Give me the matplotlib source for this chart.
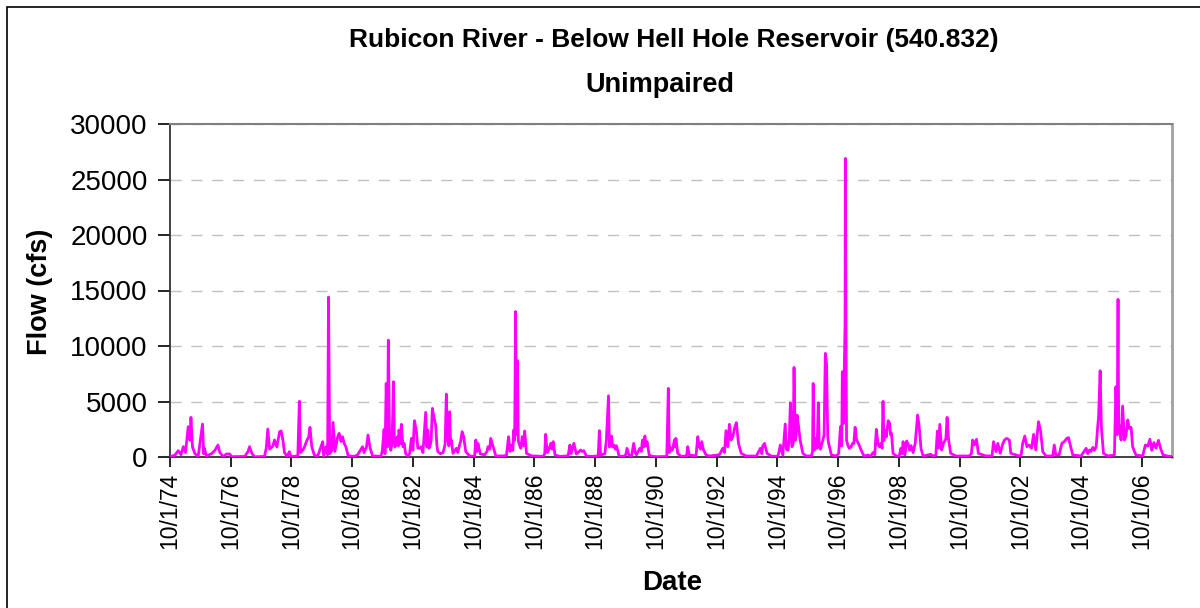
import matplotlib
matplotlib.use("Agg")
import matplotlib.pyplot as plt
from matplotlib.patches import Rectangle
import pandas as pd

# Rubicon River below Hell Hole Reservoir, unimpaired flow
# decimal year -> flow (cfs)
flow_year = [
    1974.75, 1974.91, 1975.02, 1975.11, 1975.19, 1975.26, 1975.35, 1975.41, 1975.44, 1975.49,
    1975.57, 1975.68, 1975.82, 1975.86, 1975.88, 1975.95, 1976.12, 1976.23, 1976.33, 1976.39,
    1976.50, 1976.61, 1976.72, 1976.77, 1977.21, 1977.32, 1977.37, 1977.45, 1977.54, 1977.86,
    1977.92, 1977.97, 1978.03, 1978.14, 1978.19, 1978.27, 1978.36, 1978.41, 1978.47, 1978.52,
    1978.61, 1978.68, 1978.74, 1978.96, 1979.01, 1979.05, 1979.12, 1979.18, 1979.26, 1979.32,
    1979.36, 1979.42, 1979.50, 1979.61, 1979.78, 1979.81, 1979.89, 1979.94, 1979.97, 1980.01,
    1980.08, 1980.12, 1980.18, 1980.27, 1980.32, 1980.38, 1980.43, 1980.49, 1980.54, 1980.62,
    1980.82, 1980.93, 1981.09, 1981.14, 1981.22, 1981.27, 1981.34, 1981.42, 1981.69, 1981.74,
    1981.80, 1981.83, 1981.87, 1981.91, 1981.94, 1981.98, 1982.02, 1982.06, 1982.11, 1982.14,
    1982.16, 1982.20, 1982.24, 1982.27, 1982.29, 1982.34, 1982.37, 1982.42, 1982.46, 1982.51,
    1982.59, 1982.64, 1982.70, 1982.75, 1982.80, 1982.86, 1982.91, 1982.97, 1983.02, 1983.08,
    1983.17, 1983.21, 1983.24, 1983.28, 1983.32, 1983.35, 1983.39, 1983.44, 1983.50, 1983.54,
    1983.57, 1983.65, 1983.74, 1983.78, 1983.81, 1983.85, 1983.88, 1983.90, 1983.93, 1983.96,
    1983.99, 1984.01, 1984.07, 1984.18, 1984.23, 1984.27, 1984.32, 1984.37, 1984.42, 1984.49,
    1984.62, 1984.78, 1984.82, 1984.86, 1984.89, 1984.97, 1985.11, 1985.19, 1985.22, 1985.28,
    1985.31, 1985.35, 1985.39, 1985.48, 1985.72, 1985.83, 1985.90, 1985.95, 1985.99, 1986.04,
    1986.07, 1986.10, 1986.13, 1986.16, 1986.19, 1986.22, 1986.24, 1986.30, 1986.35, 1986.40,
    1986.43, 1986.49, 1986.65, 1986.76, 1987.04, 1987.09, 1987.12, 1987.17, 1987.20, 1987.25,
    1987.29, 1987.33, 1987.37, 1987.43, 1987.59, 1987.86, 1987.92, 1987.96, 1988.00, 1988.05,
    1988.13, 1988.19, 1988.27, 1988.32, 1988.38, 1988.46, 1988.63, 1988.85, 1988.89, 1988.93,
    1989.07, 1989.12, 1989.19, 1989.22, 1989.26, 1989.29, 1989.32, 1989.37, 1989.41, 1989.45,
    1989.54, 1989.67, 1989.76, 1989.80, 1989.87, 1989.95, 1990.02, 1990.07, 1990.11, 1990.22,
    1990.27, 1990.31, 1990.35, 1990.39, 1990.42, 1990.46, 1990.53, 1990.64, 1990.81, 1991.11,
    1991.16, 1991.19, 1991.21, 1991.27, 1991.30, 1991.36, 1991.39, 1991.41, 1991.47, 1991.58,
    1991.76, 1991.80, 1991.85, 1992.07, 1992.13, 1992.18, 1992.22, 1992.26, 1992.32, 1992.40,
    1992.51, 1992.84, 1992.90, 1992.95, 1993.01, 1993.06, 1993.12, 1993.17, 1993.23, 1993.28,
    1993.34, 1993.40, 1993.47, 1993.56, 1993.72, 1993.94, 1994.05, 1994.19, 1994.24, 1994.27,
    1994.33, 1994.41, 1994.55, 1994.77, 1994.85, 1994.93, 1995.01, 1995.05, 1995.10, 1995.14,
    1995.18, 1995.23, 1995.27, 1995.30, 1995.34, 1995.37, 1995.40, 1995.45, 1995.50, 1995.59,
    1995.70, 1995.87, 1995.91, 1995.93, 1995.96, 1996.01, 1996.03, 1996.06, 1996.10, 1996.13,
    1996.17, 1996.22, 1996.25, 1996.29, 1996.33, 1996.37, 1996.41, 1996.44, 1996.48, 1996.53,
    1996.69, 1996.77, 1996.83, 1996.87, 1996.89, 1996.92, 1996.94, 1996.98, 1996.99, 1997.01,
    1997.03, 1997.07, 1997.12, 1997.17, 1997.23, 1997.27, 1997.31, 1997.36, 1997.42, 1997.51,
    1997.60, 1997.74, 1997.82, 1997.90, 1997.96, 1998.01, 1998.07, 1998.12, 1998.16, 1998.20,
    1998.23, 1998.26, 1998.29, 1998.34, 1998.40, 1998.45, 1998.48, 1998.51, 1998.56, 1998.67,
    1998.76, 1998.82, 1998.86, 1998.89, 1998.95, 1999.01, 1999.07, 1999.11, 1999.15, 1999.22,
    1999.29, 1999.37, 1999.42, 1999.48, 1999.55, 1999.80, 1999.88, 1999.97, 2000.02, 2000.06,
    2000.10, 2000.16, 2000.19, 2000.22, 2000.30, 2000.34, 2000.39, 2000.46, 2000.63, 2001.07,
    2001.14, 2001.18, 2001.24, 2001.31, 2001.37, 2001.62, 2001.82, 2001.87, 2001.95, 2002.01,
    2002.09, 2002.17, 2002.23, 2002.30, 2002.39, 2002.44, 2002.72, 2002.78, 2002.83, 2002.90,
    2002.97, 2003.04, 2003.12, 2003.19, 2003.26, 2003.35, 2003.42, 2003.49, 2003.60, 2003.82,
    2003.87, 2003.92, 2004.03, 2004.12, 2004.20, 2004.28, 2004.34, 2004.41, 2004.48, 2004.75,
    2004.92, 2004.97, 2005.03, 2005.08, 2005.14, 2005.19, 2005.25, 2005.30, 2005.33, 2005.38,
    2005.42, 2005.49, 2005.63, 2005.85, 2005.90, 2005.94, 2005.97, 2005.99, 2006.01, 2006.07,
    2006.12, 2006.18, 2006.23, 2006.29, 2006.34, 2006.40, 2006.45, 2006.51, 2006.56, 2006.78,
    2006.87, 2006.95, 2007.02, 2007.08, 2007.15, 2007.22, 2007.30, 2007.38, 2007.45, 2007.60,
    2007.74,
]
flow_cfs = [
    50, 150, 570, 200, 930, 400, 2730, 1500, 3570, 900,
    300, 80, 2970, 300, 780, 100, 300, 600, 1080, 400,
    50, 270, 270, 30, 50, 500, 930, 300, 20, 50,
    800, 2520, 700, 1000, 1530, 900, 2280, 2340, 1500, 400,
    50, 480, 30, 100, 5010, 400, 600, 930, 1500, 1830,
    2670, 900, 200, 50, 1380, 100, 930, 200, 14400, 300,
    600, 3120, 500, 1800, 2130, 1400, 1830, 1200, 930, 100,
    50, 200, 930, 400, 900, 1980, 800, 100, 50, 500,
    2490, 300, 6630, 900, 10530, 1500, 600, 1200, 6780, 1500,
    900, 1500, 1830, 1000, 2430, 1200, 2940, 930, 1230, 300,
    100, 300, 1680, 600, 3270, 2430, 800, 780, 930, 400,
    4020, 900, 2430, 800, 1080, 1500, 4380, 3570, 2880, 1000,
    480, 300, 390, 800, 1200, 5670, 1500, 3480, 1000, 4080,
    1200, 1530, 330, 780, 400, 930, 1400, 2280, 1830, 480,
    90, 50, 1530, 500, 1230, 270, 200, 500, 930, 700,
    1680, 1300, 930, 90, 100, 150, 1830, 500, 1080, 600,
    2430, 1500, 13100, 2000, 8670, 1500, 1230, 780, 1830, 1000,
    2340, 330, 100, 90, 50, 300, 2040, 400, 480, 900,
    1230, 700, 1380, 180, 50, 100, 1080, 300, 700, 1230,
    270, 400, 630, 500, 570, 90, 50, 100, 2370, 150,
    300, 1530, 5520, 900, 1830, 1890, 900, 1080, 700, 1020,
    90, 50, 200, 780, 150, 100, 1230, 400, 200, 780,
    500, 1530, 900, 1890, 1000, 1380, 180, 50, 30, 50,
    6180, 400, 930, 600, 700, 1530, 900, 1680, 330, 50,
    100, 930, 180, 100, 1830, 930, 700, 1380, 630, 200,
    90, 200, 500, 780, 400, 2370, 930, 2940, 1530, 1800,
    2580, 3090, 1230, 330, 90, 90, 50, 780, 300, 990,
    1230, 330, 80, 50, 1080, 180, 2970, 700, 600, 1500,
    4890, 930, 1200, 8070, 1500, 2000, 3780, 2730, 1530, 330,
    100, 90, 500, 6630, 600, 900, 1680, 800, 4890, 1000,
    700, 1200, 1530, 2000, 9330, 8430, 1800, 1200, 780, 180,
    90, 300, 2730, 1000, 7680, 3000, 5430, 12000, 26900, 11500,
    1500, 1080, 780, 900, 1230, 1200, 2670, 1530, 1230, 630,
    90, 180, 50, 390, 200, 2490, 1080, 900, 1230, 800,
    5010, 1500, 2430, 1800, 3270, 3030, 2000, 2130, 330, 90,
    50, 780, 300, 1380, 180, 1440, 1080, 600, 1020, 400,
    1230, 3780, 2790, 780, 90, 240, 90, 150, 2340, 800,
    2940, 630, 900, 1230, 1620, 3570, 1530, 330, 90, 90,
    300, 1530, 1080, 1590, 330, 90, 100, 1380, 480, 1230,
    330, 1170, 1530, 1680, 1530, 330, 90, 200, 1230, 1890,
    930, 1080, 780, 2040, 630, 3180, 2340, 480, 90, 90,
    1080, 180, 200, 1230, 1380, 1680, 1740, 930, 180, 90,
    780, 300, 630, 500, 870, 600, 930, 2730, 3630, 7770,
    2730, 330, 90, 180, 6330, 2000, 14200, 3000, 2730, 1530,
    4590, 1530, 1890, 3330, 2580, 2670, 930, 500, 180, 90,
    1080, 990, 1600, 600, 1300, 800, 1500, 700, 200, 80,
    50,
]

title_line1 = "Rubicon River - Below Hell Hole Reservoir (540.832)"
title_line2 = "Unimpaired"
y_ticks = [0, 5000, 10000, 15000, 20000, 25000, 30000]
x_tick_years = list(range(1974, 2007, 2))


def to_date(yr):
    # water year starts 10/1, so anchor decimal years there
    return pd.Timestamp("1974-10-01") + pd.Timedelta(days=(yr - 1974.75) * 365.25)


dates = [to_date(y) for y in flow_year]

plt.rcParams["font.family"] = ["Liberation Sans", "DejaVu Sans"]

fig = plt.figure(figsize=(12, 6.08), dpi=100)
ax = fig.add_axes([170 / 1200, 1 - 457 / 608, 1002 / 1200, 333 / 608])

ax.plot(dates, flow_cfs, color="#FF00FF", linewidth=2.0, zorder=3)

ax.set_ylim(0, 30000)
ax.set_yticks(y_ticks)
ax.set_yticklabels([str(v) for v in y_ticks])
ax.grid(axis="y", color="#c0c0c0", linestyle=(0, (8, 7)), linewidth=1.0)
ax.set_axisbelow(True)

ax.set_xlim(pd.Timestamp("1974-10-01"), pd.Timestamp("2007-09-30"))
ticks = [pd.Timestamp(f"{y}-10-01") for y in x_tick_years]
ax.set_xticks(ticks)
ax.set_xticklabels([f"10/1/{y % 100:02d}" for y in x_tick_years], rotation=90)

ax.tick_params(axis="y", direction="out", length=9, width=1.2, labelsize=20, pad=7, colors="black")
ax.tick_params(axis="x", direction="out", length=7, width=1.2, labelsize=16.5, pad=4, colors="black")
for t in ax.get_xticklines():
    t.set_color("#555555")

ax.spines["left"].set_color("#333333")
ax.spines["bottom"].set_color("#333333")
ax.spines["left"].set_linewidth(1.3)
ax.spines["bottom"].set_linewidth(1.3)
ax.spines["top"].set_color("#808080")
ax.spines["right"].set_color("#a0a0a0")
ax.spines["top"].set_linewidth(1.5)
ax.spines["right"].set_linewidth(2.0)

fig.text(40 / 1200, 1 - 292 / 608, "Flow (cfs)", fontsize=19.5, fontweight="bold",
         rotation=90, ha="center", va="center")
fig.text(672 / 1200, 1 - 583 / 608, "Date", fontsize=20, fontweight="bold", ha="center", va="center")

fig.text(674 / 1200, 1 - 40 / 608, title_line1, fontsize=19, fontweight="bold", ha="center", va="center")
fig.text(660 / 1200, 1 - 85 / 608, title_line2, fontsize=19.5, fontweight="bold", ha="center", va="center")

# outer chart-area frame (only top and left are inside the picture)
fig.patches.append(Rectangle((7 / 1200, -0.1), 1.2, 1.1 - 7 / 608, transform=fig.transFigure,
                             fill=False, edgecolor="black", linewidth=1.2))

fig.savefig("out.png", dpi=100)
